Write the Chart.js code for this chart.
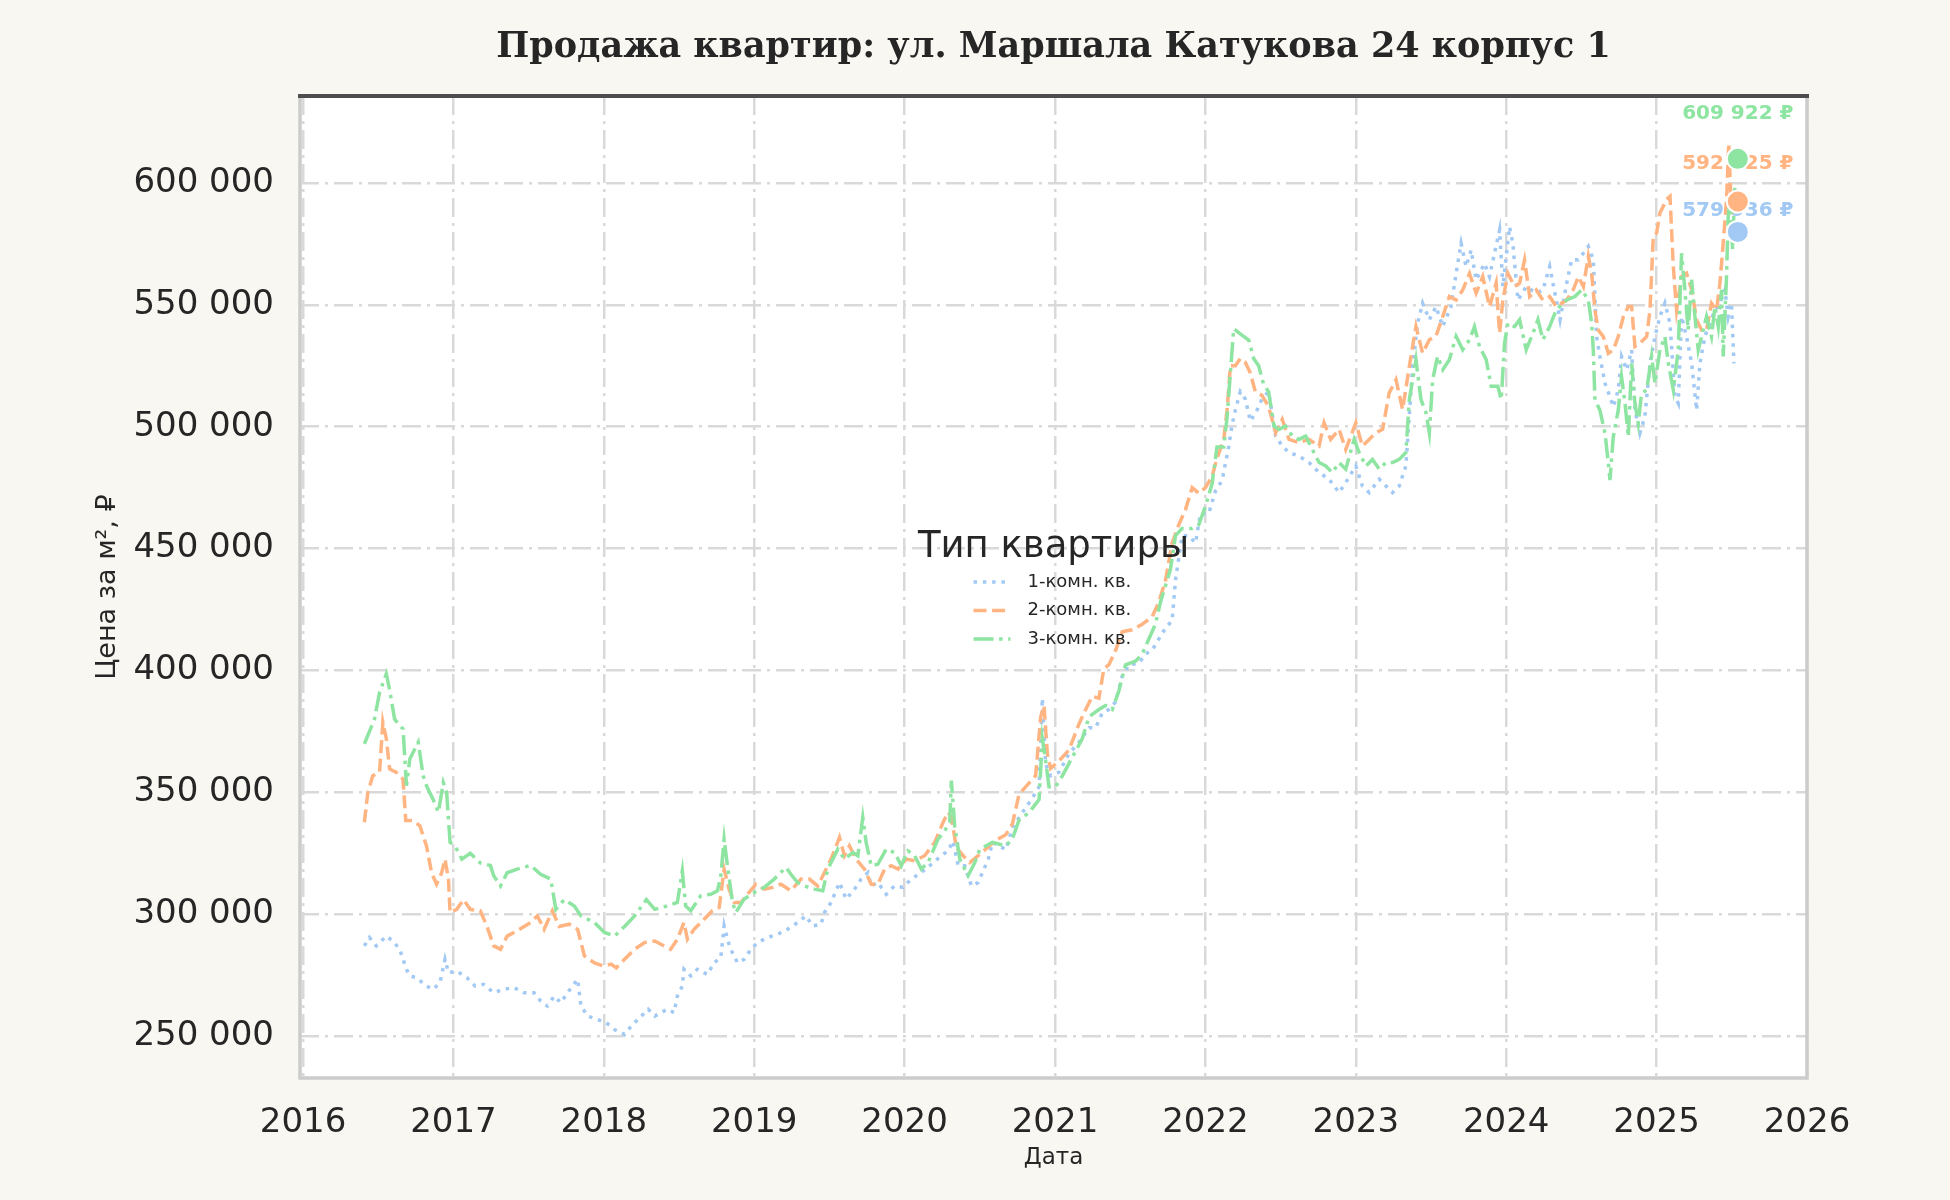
<!DOCTYPE html>
<html lang="ru">
<head>
<meta charset="utf-8">
<title>Продажа квартир: ул. Маршала Катукова 24 корпус 1</title>
<script src="https://cdn.jsdelivr.net/npm/chart.js@4.4.1/dist/chart.umd.min.js"></script>
<style>
  html, body { margin: 0; padding: 0; background: #f8f7f2; }
  canvas { display: block; }
</style>
</head>
<body>
<canvas id="chart" width="1950" height="1200"></canvas>
<script>
const SERIES_NAMES = ['1-комн. кв.', '2-комн. кв.', '3-комн. кв.'];
const COLORS = ['#a1c9f4', '#ffb482', '#8de5a1'];
const DASHES = [[3.5, 5.8], [13, 5.6], [20, 5.6, 3.5, 5.6]];

const YEAR_TICKS = [2016, 2017, 2018, 2019, 2020, 2021, 2022, 2023, 2024, 2025, 2026];
const PRICE_TICKS = [250000, 300000, 350000, 400000, 450000, 500000, 550000, 600000];

// dates are decimal years, prices in thousands of rubles per m²
const dates1 = [
  2016.408, 2016.442, 2016.487, 2016.554, 2016.598, 2016.643, 2016.688, 2016.710, 2016.754, 2016.821,
  2016.866, 2016.911, 2016.944, 2016.967, 2017.022, 2017.089, 2017.145, 2017.201, 2017.268, 2017.335,
  2017.402, 2017.469, 2017.536, 2017.580, 2017.625, 2017.670, 2017.714, 2017.759, 2017.826, 2017.848,
  2017.893, 2017.960, 2018.016, 2018.071, 2018.138, 2018.183, 2018.250, 2018.295, 2018.339, 2018.422,
  2018.467, 2018.489, 2018.522, 2018.533, 2018.578, 2018.622, 2018.689, 2018.733, 2018.778, 2018.800,
  2018.822, 2018.844, 2018.889, 2018.933, 2018.978, 2019.022, 2019.089, 2019.156, 2019.222, 2019.289,
  2019.344, 2019.389, 2019.444, 2019.467, 2019.511, 2019.567, 2019.611, 2019.667, 2019.711, 2019.756,
  2019.778, 2019.822, 2019.878, 2019.933, 2019.989, 2020.044, 2020.111, 2020.178, 2020.244, 2020.289,
  2020.322, 2020.356, 2020.400, 2020.444, 2020.489, 2020.556, 2020.584, 2020.673, 2020.717, 2020.783,
  2020.850, 2020.894, 2020.916, 2020.938, 2020.971, 2021.027, 2021.093, 2021.159, 2021.226, 2021.270,
  2021.314, 2021.358, 2021.403, 2021.447, 2021.491, 2021.558, 2021.602, 2021.646, 2021.690, 2021.735,
  2021.779, 2021.801, 2021.845, 2021.889, 2021.934, 2021.967, 2022.022, 2022.066, 2022.111, 2022.155,
  2022.177, 2022.199, 2022.232, 2022.265, 2022.299, 2022.343, 2022.376, 2022.420, 2022.467, 2022.511,
  2022.556, 2022.622, 2022.689, 2022.756, 2022.822, 2022.889, 2022.933, 2023.000, 2023.044, 2023.089,
  2023.156, 2023.200, 2023.244, 2023.289, 2023.333, 2023.378, 2023.411, 2023.444, 2023.489, 2023.533,
  2023.578, 2023.633, 2023.667, 2023.700, 2023.733, 2023.767, 2023.800, 2023.856, 2023.889, 2023.922,
  2023.956, 2023.978, 2024.022, 2024.044, 2024.078, 2024.133, 2024.200, 2024.244, 2024.289, 2024.333,
  2024.358, 2024.402, 2024.435, 2024.480, 2024.513, 2024.546, 2024.579, 2024.601, 2024.623, 2024.657,
  2024.690, 2024.712, 2024.745, 2024.767, 2024.801, 2024.834, 2024.856, 2024.889, 2024.922, 2024.956,
  2024.989, 2025.022, 2025.055, 2025.089, 2025.122, 2025.144, 2025.166, 2025.199, 2025.233, 2025.266,
  2025.288, 2025.321, 2025.354, 2025.388, 2025.421, 2025.454, 2025.476, 2025.498, 2025.514
];
const price1 = [
  287, 290.4, 287, 291, 289, 285.6, 277.4, 274.7, 274, 270.5,
  269.2, 272, 281.5, 276, 276.7, 274, 270.5, 271.2, 267.8, 269.2,
  269.9, 267.8, 267.8, 264.4, 262.3, 266.4, 263.7, 267.8, 273.3, 262.3,
  258.2, 256.8, 255.5, 252.7, 250.7, 254.1, 258.2, 261, 258.2, 261,
  259.6, 266.4, 270.5, 277.4, 274.7, 277.4, 275.3, 280.1, 282.2, 295.2,
  289.7, 285.6, 280.1, 281.5, 285.6, 288.4, 290.4, 291.8, 293.8, 296.6,
  299.3, 295.2, 295.9, 300.7, 304.8, 313, 306.2, 310.3, 314.4, 317.1,
  311.6, 313, 308.2, 311.6, 311, 314.4, 317.1, 320.5, 324, 326,
  330, 319.9, 319.9, 311.6, 313, 322.6, 329.5, 326.5, 335.6, 341.7,
  347.7, 352.3, 388.6, 361.4, 356.8, 358.3, 365.9, 370.5, 376.5, 376.5,
  382.6, 384, 387.1, 397.7, 402.3, 403, 406.8, 408.3, 412.9, 417.4,
  420.5, 437.1, 455.3, 455.3, 452.3, 464.4, 464.4, 473.5, 478, 491.7,
  500.8, 506.8, 514.4, 511.4, 502.3, 506.8, 511.4, 514.4, 496.2, 492.1,
  489.4, 488, 485.3, 481.2, 478.5, 473, 477.1, 483.9, 475.7, 473,
  478.5, 475.7, 473, 475.7, 483.9, 524.8, 542.5, 550.7, 543.9, 549.3,
  541.1, 549.3, 562.9, 575.2, 565.7, 572.5, 560.2, 567, 561.6, 571.1,
  580.7, 557.5, 582, 575.2, 552, 557.5, 554.8, 556.1, 565.7, 552,
  543.8, 558.9, 568.5, 568.5, 571.2, 574, 568.5, 537, 528.8, 517.8,
  512.3, 508.2, 515.1, 528.8, 523.3, 531.5, 506.8, 497.3, 504.1, 526,
  537, 545.2, 550.7, 542.5, 512.3, 509.6, 545.2, 537, 526, 506.8,
  526, 537, 542.5, 547.9, 550.7, 556.2, 545.2, 550.7, 526
];

const dates2 = [
  2016.408, 2016.431, 2016.464, 2016.509, 2016.531, 2016.554, 2016.576, 2016.621, 2016.665, 2016.683,
  2016.732, 2016.777, 2016.821, 2016.855, 2016.888, 2016.922, 2016.944, 2016.967, 2016.978, 2017.022,
  2017.067, 2017.112, 2017.179, 2017.223, 2017.268, 2017.313, 2017.357, 2017.424, 2017.513, 2017.558,
  2017.603, 2017.658, 2017.703, 2017.770, 2017.826, 2017.871, 2017.938, 2017.993, 2018.049, 2018.083,
  2018.138, 2018.205, 2018.272, 2018.339, 2018.444, 2018.489, 2018.533, 2018.556, 2018.600, 2018.667,
  2018.722, 2018.767, 2018.800, 2018.833, 2018.867, 2018.911, 2018.956, 2019.011, 2019.067, 2019.122,
  2019.178, 2019.244, 2019.311, 2019.367, 2019.422, 2019.467, 2019.511, 2019.567, 2019.600, 2019.633,
  2019.678, 2019.733, 2019.778, 2019.822, 2019.867, 2019.911, 2019.956, 2020.011, 2020.067, 2020.133,
  2020.200, 2020.256, 2020.289, 2020.311, 2020.344, 2020.389, 2020.433, 2020.489, 2020.606, 2020.673,
  2020.717, 2020.761, 2020.827, 2020.871, 2020.905, 2020.927, 2020.949, 2020.971, 2021.027, 2021.093,
  2021.159, 2021.204, 2021.248, 2021.292, 2021.325, 2021.358, 2021.403, 2021.447, 2021.513, 2021.580,
  2021.646, 2021.690, 2021.735, 2021.779, 2021.823, 2021.867, 2021.912, 2021.956, 2022.000, 2022.044,
  2022.077, 2022.122, 2022.144, 2022.166, 2022.199, 2022.232, 2022.265, 2022.299, 2022.332, 2022.376,
  2022.420, 2022.467, 2022.511, 2022.556, 2022.622, 2022.689, 2022.756, 2022.789, 2022.833, 2022.889,
  2022.933, 2023.000, 2023.044, 2023.089, 2023.133, 2023.178, 2023.222, 2023.267, 2023.311, 2023.356,
  2023.400, 2023.444, 2023.489, 2023.533, 2023.578, 2023.622, 2023.667, 2023.711, 2023.756, 2023.800,
  2023.844, 2023.889, 2023.933, 2023.956, 2023.978, 2024.011, 2024.056, 2024.089, 2024.122, 2024.156,
  2024.200, 2024.244, 2024.289, 2024.333, 2024.402, 2024.446, 2024.480, 2024.513, 2024.546, 2024.568,
  2024.590, 2024.612, 2024.646, 2024.679, 2024.712, 2024.745, 2024.779, 2024.812, 2024.834, 2024.856,
  2024.889, 2024.934, 2024.956, 2024.978, 2025.000, 2025.022, 2025.044, 2025.066, 2025.089, 2025.111,
  2025.133, 2025.166, 2025.199, 2025.233, 2025.266, 2025.299, 2025.332, 2025.365, 2025.399, 2025.421,
  2025.443, 2025.465, 2025.480, 2025.498, 2025.520
];
const price2 = [
  337.7, 350, 356.8, 358.2, 378.8, 372, 359.6, 358.2, 355.5, 338.4,
  338.4, 336.3, 328, 317, 312.3, 317, 322.6, 314.4, 300.7, 302,
  306, 302, 301.4, 295, 287, 285.6, 291, 293.2, 296.6, 299.3,
  293.8, 301.4, 295, 295.9, 293.8, 282.9, 280, 278.8, 279.5, 278,
  281.5, 285.6, 288.4, 289, 285.6, 289.7, 296.6, 289.7, 293.8, 297.9,
  301.4, 302.7, 318.5, 310.3, 304.8, 304.8, 308.2, 312.3, 310.3, 311,
  312.3, 309.6, 314.4, 314.4, 311.6, 317.1, 322.6, 331.5, 324, 328,
  322.6, 318.5, 312.3, 312.3, 318.5, 319.9, 318.5, 322.6, 321.9, 324,
  329.5, 337.7, 341.8, 339.7, 327.4, 324, 321.2, 324, 330.3, 332.6,
  337.1, 349.2, 353.8, 356.8, 381, 385.6, 365.9, 359.8, 362.9, 367.4,
  378, 384, 389.4, 388.6, 400.8, 402.3, 408.3, 415.9, 416.7, 419,
  422, 428, 437.1, 452.3, 459.8, 465.9, 475, 472.7, 475, 479.5,
  487.1, 494.7, 506.8, 525, 525, 528, 526.5, 522, 514.4, 512.9,
  508.3, 497.5, 503, 494.8, 493.5, 494.8, 492.1, 501.6, 494.8, 498.9,
  490.7, 501.6, 492.1, 494.8, 497.5, 498.9, 513.9, 519.3, 507.1, 524.8,
  541.1, 530.2, 535.7, 537.1, 545.2, 553.4, 552, 556.1, 562.9, 554.8,
  561.6, 549.3, 558.9, 538.4, 552, 562.9, 557.5, 558.9, 568.4, 553.4,
  556.1, 552, 553.4, 549.3, 552, 556.2, 561.6, 557.5, 569.9, 563,
  547.9, 539.7, 537, 530.1, 531.5, 537, 545.2, 549.3, 549.3, 532.9,
  534.2, 537, 547.9, 578.1, 579.5, 587.7, 590.4, 593.2, 594.5, 565.8,
  547.9, 561.6, 563, 556.2, 543.8, 539.7, 539.7, 550.7, 547.9, 558.9,
  575.3, 593.2, 616.4, 586.3, 592.4
];

const dates3 = [
  2016.408, 2016.475, 2016.509, 2016.554, 2016.576, 2016.609, 2016.665, 2016.688, 2016.710, 2016.766,
  2016.799, 2016.821, 2016.866, 2016.900, 2016.933, 2016.955, 2016.967, 2016.978, 2017.011, 2017.056,
  2017.112, 2017.179, 2017.246, 2017.268, 2017.313, 2017.357, 2017.424, 2017.513, 2017.580, 2017.647,
  2017.681, 2017.737, 2017.804, 2017.848, 2017.938, 2018.004, 2018.071, 2018.138, 2018.205, 2018.283,
  2018.339, 2018.422, 2018.489, 2018.522, 2018.544, 2018.578, 2018.644, 2018.711, 2018.756, 2018.778,
  2018.800, 2018.822, 2018.856, 2018.878, 2018.933, 2019.000, 2019.067, 2019.133, 2019.211, 2019.244,
  2019.289, 2019.333, 2019.400, 2019.456, 2019.489, 2019.556, 2019.600, 2019.656, 2019.689, 2019.722,
  2019.744, 2019.778, 2019.822, 2019.878, 2019.933, 2019.978, 2020.022, 2020.067, 2020.111, 2020.156,
  2020.222, 2020.267, 2020.300, 2020.311, 2020.333, 2020.367, 2020.422, 2020.467, 2020.500, 2020.584,
  2020.673, 2020.717, 2020.761, 2020.827, 2020.894, 2020.916, 2020.938, 2020.960, 2021.004, 2021.049,
  2021.115, 2021.181, 2021.226, 2021.292, 2021.336, 2021.381, 2021.425, 2021.469, 2021.535, 2021.580,
  2021.624, 2021.668, 2021.701, 2021.746, 2021.768, 2021.801, 2021.845, 2021.912, 2021.956, 2022.000,
  2022.044, 2022.077, 2022.122, 2022.144, 2022.166, 2022.188, 2022.221, 2022.254, 2022.288, 2022.321,
  2022.354, 2022.387, 2022.420, 2022.456, 2022.489, 2022.533, 2022.578, 2022.622, 2022.667, 2022.711,
  2022.756, 2022.800, 2022.844, 2022.889, 2022.933, 2022.989, 2023.022, 2023.067, 2023.111, 2023.156,
  2023.200, 2023.244, 2023.289, 2023.333, 2023.356, 2023.400, 2023.433, 2023.467, 2023.489, 2023.511,
  2023.544, 2023.578, 2023.622, 2023.667, 2023.711, 2023.756, 2023.789, 2023.822, 2023.867, 2023.900,
  2023.944, 2023.967, 2023.989, 2024.011, 2024.056, 2024.089, 2024.133, 2024.178, 2024.211, 2024.244,
  2024.289, 2024.333, 2024.402, 2024.457, 2024.502, 2024.546, 2024.568, 2024.579, 2024.590, 2024.623,
  2024.657, 2024.679, 2024.690, 2024.712, 2024.745, 2024.767, 2024.790, 2024.812, 2024.834, 2024.856,
  2024.878, 2024.900, 2024.934, 2024.967, 2024.989, 2025.022, 2025.055, 2025.078, 2025.111, 2025.144,
  2025.166, 2025.188, 2025.210, 2025.233, 2025.255, 2025.277, 2025.299, 2025.332, 2025.365, 2025.388,
  2025.410, 2025.432, 2025.443, 2025.465, 2025.476, 2025.492, 2025.505, 2025.520
];
const price3 = [
  369.9, 380, 391, 398.6, 392, 380, 376, 352.7, 363.7, 370.5,
  356.8, 352.7, 347, 341.8, 354, 350, 339, 329.5, 328, 322.6,
  325, 321, 320, 315.8, 311.6, 317, 318.5, 320, 316.4, 314.4,
  302, 306, 303.4, 299.3, 296.6, 292.5, 291, 295, 299.3, 306,
  302, 303.4, 304.8, 317.8, 303.4, 301.4, 307.5, 308.2, 309.6, 315.8,
  330.8, 319.9, 304.8, 300.7, 306.2, 308.9, 311, 314.4, 319.2, 316.4,
  313, 311.6, 310.3, 309.6, 318.5, 326.7, 322.6, 325.3, 324, 339.7,
  329.5, 319.9, 320.5, 326.7, 325.3, 319.9, 326, 324, 318.5, 321.2,
  330.8, 334.2, 337.7, 354.8, 336.3, 322.6, 315.8, 321.2, 326.7, 329.5,
  328, 331, 338.6, 341.7, 347, 372, 362.9, 352.3, 352.3, 356.8,
  364.4, 372, 381, 384, 385.6, 384, 391.7, 402.3, 403.8, 406.8,
  412.9, 419, 428, 437.1, 441.7, 455.3, 458.3, 458.3, 459.8, 467.4,
  476.5, 491.7, 491.7, 503.8, 522, 540.2, 538.6, 537.1, 535.6, 528,
  525, 517.4, 514.4, 500.3, 498.9, 500.3, 496.2, 494.8, 496.2, 490.7,
  485.3, 483.9, 481.2, 485.3, 482.6, 494.8, 489.4, 483.9, 486.6, 482.6,
  485.3, 485.3, 486.6, 489.4, 511.2, 527.5, 511.2, 505.7, 497.5, 519.3,
  528.9, 523.4, 527.5, 537.1, 531.6, 535.7, 541.1, 533, 527.5, 516.6,
  516.6, 511.2, 534.3, 542.5, 541.1, 543.9, 531.6, 538.4, 543.9, 535.7,
  541.1, 548, 552, 553.4, 556.2, 552, 542.5, 531.5, 511, 506.8,
  497.3, 485, 478.1, 495.9, 506.8, 520.5, 509.6, 495.9, 526, 509.6,
  501.4, 513.7, 515.1, 528.8, 517.8, 531.5, 537, 526, 515.1, 531.5,
  571.2, 556.2, 539.7, 560.3, 545.2, 531.5, 537, 545.2, 537, 549.3,
  541.1, 556.2, 528.8, 561.6, 586.3, 596, 572.6, 598
];

// last observed prices, marked with dots
const lastDate = 2025.54;
const lastPrices = [579936, 592425, 609922];
const labelShift = [-21, -38, -45];

function formatThousands(v) {
  return String(Math.round(v)).replace(/\B(?=(\d{3})+(?!\d))/g, ' ');
}

function toPoints(dates, prices) {
  return dates.map((d, i) => ({ x: d, y: prices[i] * 1000 }));
}

const lineDatasets = [[dates1, price1], [dates2, price2], [dates3, price3]].map(([dates, prices], i) => ({
  label: SERIES_NAMES[i],
  data: toPoints(dates, prices),
  borderColor: COLORS[i],
  backgroundColor: COLORS[i],
  borderWidth: 3.5,
  borderDash: DASHES[i],
  pointRadius: 0,
  tension: 0,
  order: 3 - i,
}));

const lastDots = {
  label: 'last',
  data: lastPrices.map(v => ({ x: lastDate, y: v })),
  showLine: false,
  pointRadius: 11,
  pointBackgroundColor: COLORS,
  pointBorderColor: '#ffffff',
  pointBorderWidth: 2,
  order: 0,
};

const background = {
  id: 'background',
  beforeDraw(chart) {
    const { ctx, chartArea: a } = chart;
    ctx.save();
    ctx.fillStyle = '#f8f7f2';
    ctx.fillRect(0, 0, chart.width, chart.height);
    ctx.fillStyle = '#ffffff';
    ctx.fillRect(a.left, a.top, a.right - a.left, a.bottom - a.top);
    ctx.restore();
  }
};

const endLabels = {
  id: 'endLabels',
  beforeDatasetsDraw(chart) {
    const { ctx, scales: { x, y } } = chart;
    ctx.save();
    ctx.font = "bold 20px 'DejaVu Sans'";
    ctx.textAlign = 'center';
    ctx.textBaseline = 'middle';
    lastPrices.forEach((v, i) => {
      ctx.fillStyle = COLORS[i];
      ctx.fillText(formatThousands(v) + ' ₽', x.getPixelForValue(lastDate), y.getPixelForValue(v) + labelShift[i]);
    });
    ctx.restore();
  }
};

const frame = {
  id: 'frame',
  afterDatasetsDraw(chart) {
    const { ctx, chartArea: a } = chart;
    ctx.save();
    ctx.lineWidth = 3.5;
    ctx.strokeStyle = '#cccccc';
    ctx.beginPath();
    ctx.moveTo(a.left, a.top);
    ctx.lineTo(a.left, a.bottom);
    ctx.lineTo(a.right, a.bottom);
    ctx.lineTo(a.right, a.top);
    ctx.stroke();
    ctx.lineWidth = 4;
    ctx.strokeStyle = '#4d4d4d';
    ctx.beginPath();
    ctx.moveTo(a.left - 2, a.top);
    ctx.lineTo(a.right + 2, a.top);
    ctx.stroke();
    ctx.restore();
  }
};

const typeLegend = {
  id: 'typeLegend',
  afterDatasetsDraw(chart) {
    const { ctx, chartArea: a } = chart;
    const cx = (a.left + a.right) / 2;
    ctx.save();
    ctx.fillStyle = '#262626';
    ctx.textAlign = 'center';
    ctx.textBaseline = 'middle';
    ctx.font = "37px 'DejaVu Sans'";
    ctx.fillText('Тип квартиры', cx, 547);
    ctx.font = "18px 'DejaVu Sans'";
    ctx.textAlign = 'left';
    SERIES_NAMES.forEach((name, i) => {
      const y = 582 + i * 28.5;
      ctx.strokeStyle = COLORS[i];
      ctx.lineWidth = 3.5;
      ctx.setLineDash(DASHES[i]);
      ctx.beginPath();
      ctx.moveTo(cx - 80, y);
      ctx.lineTo(cx - 43, y);
      ctx.stroke();
      ctx.fillText(name, cx - 26, y);
    });
    ctx.restore();
  }
};

const tickFont = { family: "'DejaVu Sans', sans-serif", size: 34 };
const gridStyle = { color: '#d9d9d9', lineWidth: 2.5, drawTicks: false };
const gridDash = { display: false, dash: [19, 6, 3, 6] };

new Chart(document.getElementById('chart'), {
  type: 'line',
  data: { datasets: [...lineDatasets, lastDots] },
  options: {
    responsive: false,
    animation: false,
    devicePixelRatio: 1,
    layout: { padding: { left: 0, right: 143, top: 0, bottom: 0 } },
    plugins: {
      legend: { display: false },
      tooltip: { enabled: false },
      title: {
        display: true,
        text: 'Продажа квартир: ул. Маршала Катукова 24 корпус 1',
        fullSize: false,
        color: '#262626',
        font: { family: "'DejaVu Serif', serif", size: 35, weight: 'bold' },
        padding: { top: 27, bottom: 27 },
      },
    },
    scales: {
      x: {
        type: 'linear',
        min: 2015.98,
        max: 2026,
        bounds: 'data',
        afterBuildTicks: s => { s.ticks = YEAR_TICKS.map(v => ({ value: v })); },
        afterFit: s => { s.height = 122; },
        ticks: { padding: 25, color: '#262626', font: tickFont, maxRotation: 0, autoSkip: false, callback: v => String(v) },
        grid: gridStyle,
        border: gridDash,
        title: {
          display: true, text: 'Дата', color: '#262626',
          font: { family: "'DejaVu Sans', sans-serif", size: 23 },
          padding: { top: 0, bottom: 28 },
        },
      },
      y: {
        type: 'linear',
        min: 232800,
        max: 635700,
        bounds: 'data',
        afterBuildTicks: s => { s.ticks = PRICE_TICKS.map(v => ({ value: v })); },
        afterFit: s => { s.width = 300; },
        ticks: { padding: 26, color: '#262626', font: tickFont, autoSkip: false, callback: v => formatThousands(v) },
        grid: gridStyle,
        border: gridDash,
        title: {
          display: true, text: 'Цена за м², ₽', color: '#262626',
          font: { family: "'DejaVu Sans', sans-serif", size: 27 },
          padding: { top: 92, bottom: 0 },
        },
      },
    },
  },
  plugins: [background, endLabels, frame, typeLegend],
});
</script>
</body>
</html>
